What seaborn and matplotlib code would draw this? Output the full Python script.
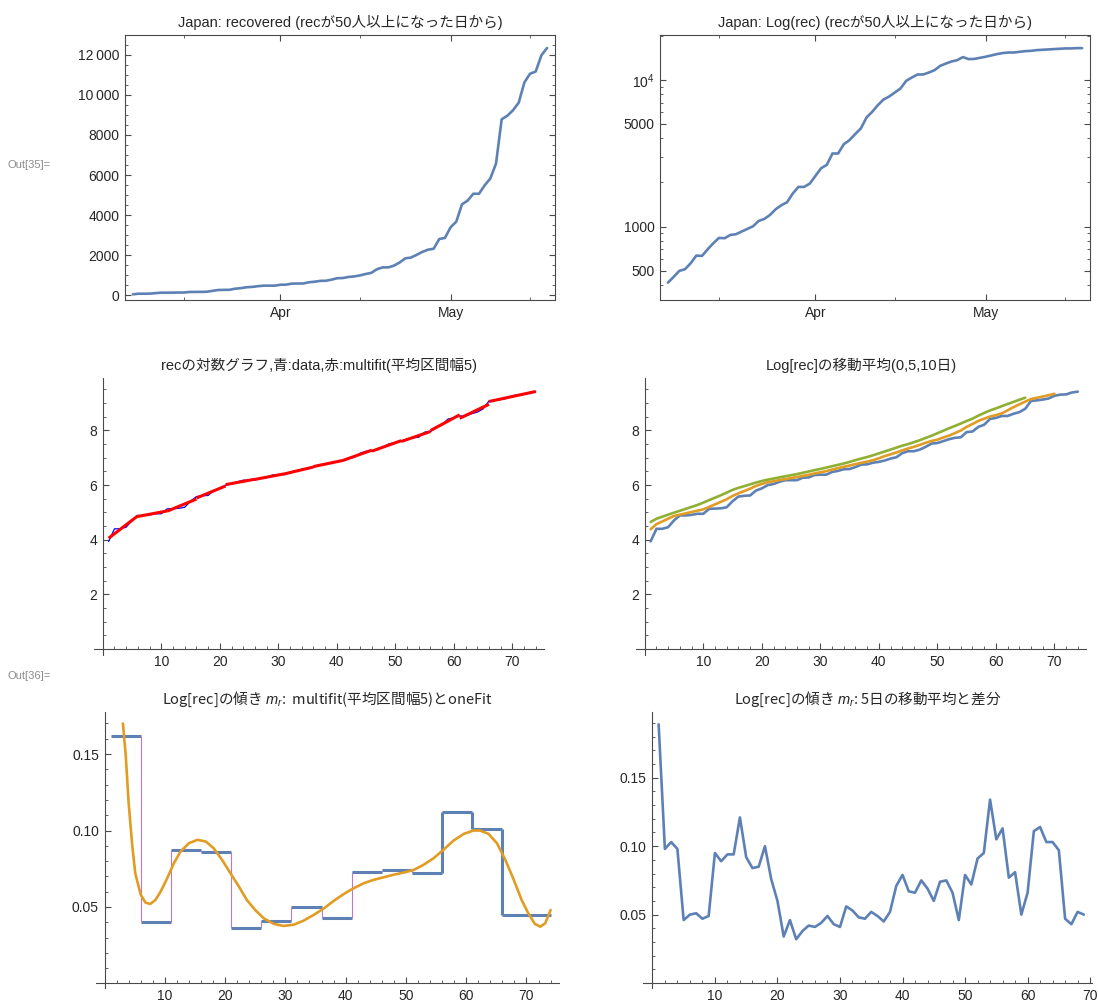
import numpy as np
import pandas as pd
import matplotlib
matplotlib.use('Agg')
import matplotlib.pyplot as plt
import matplotlib.ticker as mticker
import seaborn as sns

# ---------------------------------------------------------------
# data (Japan, recovered, from 2020-03-06)
# ---------------------------------------------------------------
start_date = '2020-03-06'

log_rec = [3.94, 4.40, 4.40, 4.46, 4.71, 4.89, 4.89, 4.91, 4.95, 4.95,
           5.13, 5.14, 5.15, 5.19, 5.41, 5.58, 5.61, 5.62, 5.80, 5.88,
           6.00, 6.04, 6.12, 6.18, 6.18, 6.18, 6.27, 6.28, 6.37, 6.38,
           6.38, 6.48, 6.52, 6.58, 6.59, 6.66, 6.75, 6.76, 6.82, 6.85,
           6.90, 6.97, 7.02, 7.17, 7.24, 7.24, 7.30, 7.40, 7.52, 7.54,
           7.61, 7.68, 7.73, 7.75, 7.94, 7.96, 8.13, 8.21, 8.42, 8.46,
           8.53, 8.53, 8.61, 8.67, 8.79, 9.08, 9.10, 9.13, 9.17, 9.27,
           9.31, 9.32, 9.39, 9.42]

# series shown in the log-scale panel (top right)
log_panel_values = [415, 454, 499, 512, 562, 634, 631, 700, 770, 837,
                    833, 877, 887, 925, 964, 1005, 1093, 1128, 1201, 1313,
                    1398, 1465, 1679, 1863, 1863, 1963, 2214, 2499, 2633, 3147,
                    3147, 3639, 3880, 4266, 4659, 5530, 6050, 6718, 7339, 7697,
                    8199, 8735, 9843, 10370, 10870, 10870, 11220, 11640, 12450, 12910,
                    13330, 13620, 14280, 13840, 13880, 14120, 14360, 14660, 14970, 15210,
                    15350, 15350, 15520, 15680, 15760, 15930, 16020, 16100, 16190, 16270,
                    16360, 16360, 16440, 16440]

# multifit blocks (interval width 5) and their slopes
block_edges = [1, 6, 11, 16, 21, 26, 31, 36, 41, 46, 51, 56, 61, 66, 74]
block_slopes = [0.162, 0.040, 0.087, 0.086, 0.036, 0.041, 0.050,
                0.043, 0.073, 0.074, 0.072, 0.112, 0.101, 0.045]

# oneFit slope curve
onefit_x = [3.05, 3.5, 4.0, 4.6, 5.1, 6.0, 6.8, 7.6, 8.45, 9.3,
            10.4, 11.5, 12.6, 14.0, 15.4, 16.8, 18.1, 19.5, 20.9, 22.3,
            23.6, 25.0, 26.4, 28.1, 29.7, 31.4, 33.0, 34.7, 36.4, 38.0,
            39.7, 41.3, 43.0, 44.6, 46.3, 47.9, 49.6, 51.3, 52.9, 54.6,
            56.2, 57.9, 59.6, 61.2, 62.3, 63.7, 65.1, 66.5, 67.9, 69.2,
            70.3, 71.4, 72.3, 73.1, 73.7, 74.0]
onefit_y = [0.170, 0.150, 0.118, 0.090, 0.072, 0.058, 0.0528, 0.052, 0.0546, 0.060,
            0.0688, 0.0786, 0.0862, 0.0917, 0.0939, 0.0928, 0.0884, 0.0808, 0.072, 0.0633,
            0.0546, 0.048, 0.0426, 0.0389, 0.0376, 0.0384, 0.041, 0.0448, 0.0491, 0.0539,
            0.0585, 0.0622, 0.0655, 0.0677, 0.0694, 0.071, 0.0725, 0.0742, 0.0775, 0.0819,
            0.0873, 0.0934, 0.0978, 0.100, 0.100, 0.0978, 0.0917, 0.0808, 0.0677, 0.0546,
            0.0459, 0.0389, 0.0371, 0.0393, 0.0448, 0.048]

# slope of the 5-day moving average (differences)
ma5_slope = [0.189, 0.098, 0.103, 0.098, 0.046, 0.050, 0.051, 0.047, 0.049, 0.095,
             0.089, 0.094, 0.094, 0.121, 0.092, 0.084, 0.085, 0.100, 0.076, 0.060,
             0.034, 0.046, 0.032, 0.038, 0.042, 0.041, 0.044, 0.049, 0.043, 0.041,
             0.056, 0.053, 0.048, 0.047, 0.052, 0.049, 0.045, 0.052, 0.071, 0.079,
             0.067, 0.066, 0.075, 0.069, 0.060, 0.074, 0.075, 0.066, 0.046, 0.079,
             0.072, 0.091, 0.095, 0.134, 0.105, 0.113, 0.077, 0.081, 0.050, 0.066,
             0.111, 0.114, 0.103, 0.103, 0.097, 0.047, 0.043, 0.052, 0.050]

month_ticks = ['2020-04-01', '2020-05-01']
month_labels = ['Apr', 'May']
mid_month_ticks = ['2020-03-15', '2020-04-15', '2020-05-15']

# ---------------------------------------------------------------
BLUE = '#5E81B5'
ORANGE = '#E19C24'
GREEN = '#8FB032'
AXC = '#4a4a4a'
W, H = 1098, 1001

sns.set_style('ticks')
plt.rcParams['font.family'] = ['Liberation Sans', 'Noto Sans CJK JP', 'DejaVu Sans']
plt.rcParams['mathtext.fontset'] = 'custom'
plt.rcParams['mathtext.it'] = 'Liberation Sans:italic'
plt.rcParams['mathtext.rm'] = 'Liberation Sans'


def box(l, t, r, b):
    return [l / W, 1 - b / H, (r - l) / W, (b - t) / H]


def frame_style(ax):
    for s in ax.spines.values():
        s.set_color(AXC)
        s.set_linewidth(0.8)
    ax.tick_params(which='both', direction='in', top=True, right=True,
                   color=AXC, labelsize=10, pad=4)
    ax.tick_params(which='major', length=4.5)
    ax.tick_params(which='minor', length=2.5)


def origin_style(ax):
    ax.spines['top'].set_visible(False)
    ax.spines['right'].set_visible(False)
    ax.spines['left'].set_position(('data', 0))
    ax.spines['bottom'].set_position(('data', 0))
    for s in ('left', 'bottom'):
        ax.spines[s].set_color(AXC)
        ax.spines[s].set_linewidth(0.8)
    ax.tick_params(which='both', direction='in', color=AXC, labelsize=10, pad=4)
    ax.tick_params(which='major', length=4)
    ax.tick_params(which='minor', length=2.5)


def date_axis(ax, dates):
    pad = pd.Timedelta(days=1.4)
    ax.set_xlim(dates[0] - pad, dates[-1] + pad)
    ax.set_xticks(pd.to_datetime(month_ticks))
    ax.set_xticklabels(month_labels)
    ax.set_xticks(pd.to_datetime(mid_month_ticks), minor=True)
    ax.tick_params(axis='x', which='minor', length=3.5)
    ax.set_xlabel('')
    ax.set_ylabel('')


def thin_space(v, pos):
    v = int(round(v))
    return f'{v:,}'.replace(',', '\u2009') if abs(v) >= 10000 else f'{v}'


def day_axis(ax, xmax):
    ax.set_xlim(-1.5, xmax)
    ax.xaxis.set_major_locator(mticker.FixedLocator(range(10, 80, 10)))
    ax.xaxis.set_minor_locator(mticker.FixedLocator(range(2, int(xmax) + 1, 2)))
    ax.set_xlabel('')
    ax.set_ylabel('')


log_rec = np.array(log_rec)
days = np.arange(1, len(log_rec) + 1)
dates = pd.date_range(start_date, periods=len(log_rec))
rec = np.exp(log_rec)

fig = plt.figure(figsize=(W / 100, H / 100), dpi=100)
title_kw = dict(fontsize=10.5, pad=6)
# titles that contain mathtext need a single family that has the kana/kanji
math_title_kw = dict(fontsize=10.5, pad=6, family='Noto Sans CJK JP')

# ---- top left: recovered ----
ax1 = fig.add_axes(box(125, 35, 555, 300))
sns.lineplot(x=dates, y=rec, color=BLUE, lw=1.9, ax=ax1)
date_axis(ax1, dates)
ax1.set_ylim(-232, 12980)
ax1.yaxis.set_major_locator(mticker.MultipleLocator(2000))
ax1.yaxis.set_minor_locator(mticker.MultipleLocator(500))
ax1.yaxis.set_major_formatter(mticker.FuncFormatter(thin_space))
frame_style(ax1)
ax1.set_title('Japan: recovered (recが50人以上になった日から)', **title_kw)

# ---- top right: log scale ----
ax2 = fig.add_axes(box(660, 35, 1090, 300))
sns.lineplot(x=dates, y=log_panel_values, color=BLUE, lw=1.9, ax=ax2)
ax2.set_yscale('log')
ax2.set_ylim(316, 20200)
date_axis(ax2, dates)
ax2.yaxis.set_major_locator(mticker.FixedLocator([500, 1000, 5000, 10000]))
ax2.yaxis.set_major_formatter(mticker.FixedFormatter(['500', '1000', '5000', r'$\mathregular{10^4}$']))
ax2.yaxis.set_minor_locator(mticker.LogLocator(base=10, subs=np.arange(2, 10)))
ax2.yaxis.set_minor_formatter(mticker.NullFormatter())
frame_style(ax2)
ax2.set_title('Japan: Log(rec) (recが50人以上になった日から)', **title_kw)

# ---- middle left: data vs multifit ----
ax3 = fig.add_axes(box(94, 378, 544, 654.5))
sns.lineplot(x=days, y=log_rec, color='#0000FF', lw=0.9, ax=ax3)
for a, b in zip(block_edges[:-1], block_edges[1:]):
    xs = days[a - 1:b]
    k, c = np.polyfit(xs, log_rec[a - 1:b], 1)
    ax3.plot([a, b], [k * a + c, k * b + c], color='#FF0000', lw=2.2,
             solid_capstyle='butt', zorder=3)
day_axis(ax3, 75.4)
ax3.set_ylim(-0.2, 9.92)
ax3.yaxis.set_major_locator(mticker.FixedLocator([2, 4, 6, 8]))
ax3.yaxis.set_minor_locator(mticker.MultipleLocator(0.5))
origin_style(ax3)
ax3.set_title('recの対数グラフ,青:data,赤:multifit(平均区間幅5)', **title_kw)

# ---- middle right: moving averages ----
ax4 = fig.add_axes(box(636, 378, 1086, 654.5))
s = pd.Series(log_rec)
ma5 = s.rolling(5).mean().dropna().to_numpy()
ma10 = s.rolling(10).mean().dropna().to_numpy()
sns.lineplot(x=days, y=log_rec, color=BLUE, lw=1.9, ax=ax4)
sns.lineplot(x=days[:len(ma5)], y=ma5, color=ORANGE, lw=1.9, ax=ax4)
sns.lineplot(x=days[:len(ma10)], y=ma10, color=GREEN, lw=1.9, ax=ax4)
day_axis(ax4, 75.4)
ax4.set_ylim(-0.2, 9.92)
ax4.yaxis.set_major_locator(mticker.FixedLocator([2, 4, 6, 8]))
ax4.yaxis.set_minor_locator(mticker.MultipleLocator(0.5))
origin_style(ax4)
ax4.set_title('Log[rec]の移動平均(0,5,10日)', **title_kw)

# ---- bottom left: multifit slopes + oneFit ----
ax5 = fig.add_axes(box(95.5, 712, 559, 988))
ax5.hlines(block_slopes, block_edges[:-1], block_edges[1:], color=BLUE, lw=2.2, zorder=2)
for i in range(1, len(block_slopes)):
    thick = i >= 11
    ax5.vlines(block_edges[i], block_slopes[i - 1], block_slopes[i],
               color=BLUE if thick else '#BE78C6', lw=2.2 if thick else 0.8, zorder=2)
sns.lineplot(x=onefit_x, y=onefit_y, color=ORANGE, lw=1.9, sort=False, ax=ax5, zorder=3)
day_axis(ax5, 75.4)
ax5.set_ylim(-0.003, 0.1775)
ax5.yaxis.set_major_locator(mticker.FixedLocator([0.05, 0.10, 0.15]))
ax5.yaxis.set_major_formatter(mticker.FormatStrFormatter('%.2f'))
ax5.yaxis.set_minor_locator(mticker.MultipleLocator(0.01))
origin_style(ax5)
ax5.set_title('Log[rec]の傾き $m_r$:  multifit(平均区間幅5)とoneFit', **math_title_kw)

# ---- bottom right: slope of 5-day moving average ----
ax6 = fig.add_axes(box(643, 712, 1092, 988))
sns.lineplot(x=days[:len(ma5_slope)], y=ma5_slope, color=BLUE, lw=1.9, ax=ax6)
day_axis(ax6, 70.3)
ax6.set_ylim(-0.0036, 0.198)
ax6.yaxis.set_major_locator(mticker.FixedLocator([0.05, 0.10, 0.15]))
ax6.yaxis.set_major_formatter(mticker.FormatStrFormatter('%.2f'))
ax6.yaxis.set_minor_locator(mticker.MultipleLocator(0.01))
origin_style(ax6)
ax6.set_title('Log[rec]の傾き $m_r$: 5日の移動平均と差分', **math_title_kw)

fig.text(8 / W, 1 - 165 / H, 'Out[35]=', color='#8c8c8c', fontsize=8, va='center')
fig.text(8 / W, 1 - 676 / H, 'Out[36]=', color='#8c8c8c', fontsize=8, va='center')

fig.savefig('out.png', dpi=100)
